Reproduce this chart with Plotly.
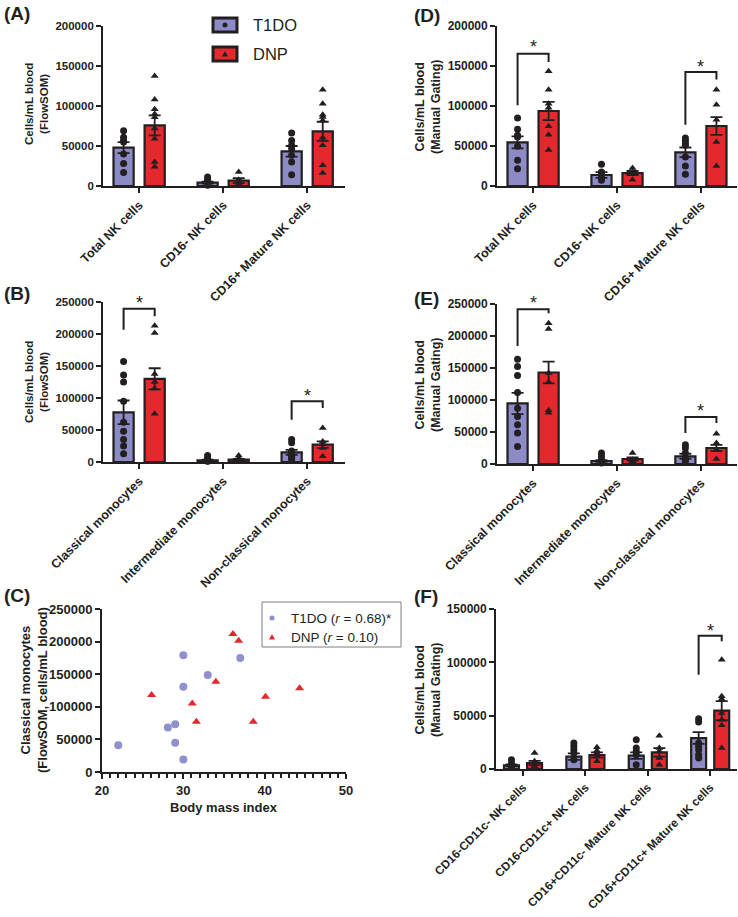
import plotly.graph_objects as go

W, H = 738, 917
PURPLE = '#8D8BC6'
RED = '#E5282E'
INK = '#231F20'
FONT = 'Arial, Liberation Sans, sans-serif'

# ---------------- DATA ----------------
# Panel A (FlowSOM NK)
A_cats = ["Total NK cells", "CD16- NK cells", "CD16+ Mature NK cells"]
A_t1do_mean = [47900, 4200, 43300]
A_t1do_sem = [6900, 1200, 6700]
A_dnp_mean = [75800, 6700, 68300]
A_dnp_sem = [12500, 3000, 12000]
A_t1do_pts = [[69000, 61000, 57000, 55000, 40000, 28000, 17000],
              [11250, 7900, 5000, 2900, 1700, 1000],
              [66250, 57000, 50800, 46700, 38300, 30000, 14200]]
A_dnp_pts = [[137500, 108000, 96000, 90000, 86000, 72000, 59000, 30000, 24000],
             [17500, 7900, 4200, 2100],
             [120400, 102900, 89200, 86250, 82000, 60400, 50800, 25800, 16250]]
A_sig = []  # (category index, left y, top y, right y, star y)

# Panel B (FlowSOM monocytes)
B_cats = ["Classical monocytes", "Intermediate monocytes", "Non-classical monocytes"]
B_t1do_mean = [77600, 2600, 15100]
B_t1do_sem = [18500, 900, 4000]
B_dnp_mean = [130000, 3600, 27100]
B_dnp_sem = [16500, 1200, 5000]
B_t1do_pts = [[157000, 136000, 125000, 95000, 62000, 48000, 35000, 25000, 13000],
              [10000, 6000, 3500, 2000, 1500, 1000],
              [35000, 30000, 17000, 12000, 9000, 6000, 4000]]
B_dnp_pts = [[213000, 201500, 137500, 125000, 115000, 75500],
             [10000, 6000, 3000, 2000, 1000],
             [53000, 32000, 28000, 22000, 9000]]
B_sig = [(0, 206800, 239600, 227600, 253000), (2, 66100, 94800, 84400, 108000)]

# Panel C (scatter, BMI vs classical monocytes)
C_t1do_bmi = [22.0, 28.1, 29.0, 29.0, 30.0, 30.0, 30.0, 33.0, 37.0]
C_t1do_mono = [41000, 68300, 73400, 44700, 19000, 130900, 179100, 148900, 175000]
C_dnp_bmi = [26.1, 31.1, 31.6, 34.0, 36.1, 36.8, 38.6, 40.1, 44.3]
C_dnp_mono = [118000, 105200, 77000, 138600, 211500, 201200, 77000, 115500, 128300]
C_legend = ["T1DO (<i>r</i> = 0.68)*", "DNP (<i>r</i> = 0.10)"]

# Panel D (Manual NK)
D_cats = ["Total NK cells", "CD16- NK cells", "CD16+ Mature NK cells"]
D_t1do_mean = [54600, 13750, 42100]
D_t1do_sem = [7500, 3500, 6000]
D_dnp_mean = [93750, 16250, 75000]
D_dnp_sem = [11500, 2500, 11000]
D_t1do_pts = [[85000, 70800, 63300, 61250, 49600, 32100, 21700],
              [27100, 17500, 14200, 10400, 7100],
              [60000, 57000, 53750, 50800, 36250, 25000, 14600]]
D_dnp_pts = [[143300, 120400, 102900, 97900, 74600, 64200, 45000],
             [22500, 17500, 7900],
             [120400, 101700, 82900, 55000, 25000]]
D_sig = [(0, 100800, 165400, 155000, 177000), (2, 76700, 142500, 133000, 153000)]

# Panel E (Manual monocytes)
E_cats = ["Classical monocytes", "Intermediate monocytes", "Non-classical monocytes"]
E_t1do_mean = [94600, 4700, 12000]
E_t1do_sem = [16600, 1500, 4000]
E_dnp_mean = [143000, 7800, 25000]
E_dnp_sem = [17000, 2500, 5000]
E_t1do_pts = [[163700, 152300, 138300, 111750, 87300, 74300, 61300, 48300, 27500],
              [17000, 12000, 6800, 3000, 1500],
              [30000, 25000, 17000, 9400, 4200]]
E_dnp_pts = [[220000, 211000, 142000, 128000, 84000, 80000],
             [17000, 6800, 4200],
             [47300, 32700, 22400, 7800]]
E_sig = [(0, 184500, 241700, 235500, 256000), (2, 48300, 73300, 64000, 87000)]

# Panel F (Manual NK CD11c)
F_cats = ["CD16-CD11c- NK cells", "CD16-CD11c+ NK cells",
          "CD16+CD11c- Mature NK cells", "CD16+CD11c+ Mature NK cells"]
F_t1do_mean = [3400, 11600, 12500, 29000]
F_t1do_sem = [1000, 3000, 3000, 5500]
F_dnp_mean = [5600, 13100, 15600, 54700]
F_dnp_sem = [2000, 2500, 4000, 9000]
F_t1do_pts = [[8750, 5600, 2500, 1500],
              [24400, 21250, 18100, 15000, 8750],
              [27500, 19700, 16600, 13400, 4000],
              [47000, 44000, 24400, 21250, 18100, 13400, 10300]]
F_dnp_pts = [[15000, 7200, 2500],
             [20300, 17200, 15000, 11900, 7200],
             [31250, 19700, 16600, 10300, 4000],
             [102500, 68100, 65600, 52500, 46250, 40900, 19700]]
F_sig = [(3, 88400, 125000, 119700, 132000)]

# ---------------- LAYOUT HELPERS ----------------
def xd(l, r):
    return [l / W, r / W]

def yd(top, bottom):
    return [1 - bottom / H, 1 - top / H]

def px(x):
    return x / W

def py(y):
    return 1 - y / H

fig = go.Figure()
annotations = []
shapes = []
OFF = 0.185
BW = 0.24

def axis_common(size):
    return dict(showline=True, linecolor=INK, linewidth=1.8, ticks='outside',
                ticklen=5, tickwidth=1.8, tickcolor=INK, showgrid=False,
                zeroline=False, automargin=False,
                tickfont=dict(family=FONT, size=size, color=INK, weight='bold'))

def bar_panel(n, cats, tm, ts, dm, ds, tp, dp, sigs, xdom, ydom, xr, yr, ytv,
              fsize, xfsize):
    xa = 'x' if n == 1 else 'x%d' % n
    ya = 'y' if n == 1 else 'y%d' % n
    idx = list(range(len(cats)))
    for means, sems, pts, sign, col, sym, ms in [
            (tm, ts, tp, -1, PURPLE, 'circle', 7),
            (dm, ds, dp, 1, RED, 'triangle-up', 7)]:
        fig.add_trace(go.Bar(
            x=[i + sign * OFF for i in idx], y=means, width=BW,
            marker=dict(color=col, line=dict(color=INK, width=2.2)),
            error_y=dict(type='data', array=sems, color=INK, thickness=1.8, width=6),
            xaxis=xa, yaxis=ya, showlegend=False, hoverinfo='skip'))
        xs, ys = [], []
        for i, p in zip(idx, pts):
            xs += [i + sign * OFF] * len(p)
            ys += p
        fig.add_trace(go.Scatter(
            x=xs, y=ys, mode='markers', cliponaxis=False,
            marker=dict(symbol=sym, size=ms, color=INK, line=dict(width=0)),
            xaxis=xa, yaxis=ya, showlegend=False, hoverinfo='skip'))
    for (ci, yl, yt, yrr, ys) in sigs:
        fig.add_trace(go.Scatter(
            x=[ci - OFF, ci - OFF, ci + OFF, ci + OFF], y=[yl, yt, yt, yrr],
            mode='lines', line=dict(color=INK, width=2), cliponaxis=False,
            xaxis=xa, yaxis=ya, showlegend=False, hoverinfo='skip'))
        annotations.append(dict(x=ci, y=ys / yr[1], xref=xa, yref=ya + ' domain',
                                text='*', showarrow=False, yanchor='middle',
                                yshift=-3,
                                font=dict(family=FONT, size=18, color=INK)))
    xkey = 'xaxis' if n == 1 else 'xaxis%d' % n
    ykey = 'yaxis' if n == 1 else 'yaxis%d' % n
    xax = axis_common(xfsize)
    xax.update(domain=xd(*xdom), range=xr, anchor=ya, tickmode='array',
               tickvals=idx, ticktext=cats, tickangle=-45)
    yax = axis_common(fsize)
    yax.update(domain=yd(*ydom), range=yr, anchor=xa, tickmode='array',
               tickvals=ytv, ticktext=[str(v) for v in ytv])
    fig.update_layout({xkey: xax, ykey: yax})

bar_panel(1, A_cats, A_t1do_mean, A_t1do_sem, A_dnp_mean, A_dnp_sem, A_t1do_pts,
          A_dnp_pts, A_sig, (103, 345), (26, 186), [-0.43, 2.45], [0, 200000],
          [0, 50000, 100000, 150000, 200000], 11.5, 12.5)
bar_panel(2, B_cats, B_t1do_mean, B_t1do_sem, B_dnp_mean, B_dnp_sem, B_t1do_pts,
          B_dnp_pts, B_sig, (103, 345), (302, 462), [-0.43, 2.45], [0, 250000],
          [0, 50000, 100000, 150000, 200000, 250000], 11.5, 12.5)
bar_panel(4, D_cats, D_t1do_mean, D_t1do_sem, D_dnp_mean, D_dnp_sem, D_t1do_pts,
          D_dnp_pts, D_sig, (497, 737), (26, 186), [-0.43, 2.43], [0, 200000],
          [0, 50000, 100000, 150000, 200000], 12, 12.5)
bar_panel(5, E_cats, E_t1do_mean, E_t1do_sem, E_dnp_mean, E_dnp_sem, E_t1do_pts,
          E_dnp_pts, E_sig, (497, 737), (304, 464), [-0.43, 2.43], [0, 250000],
          [0, 50000, 100000, 150000, 200000, 250000], 12, 12.5)
bar_panel(6, F_cats, F_t1do_mean, F_t1do_sem, F_dnp_mean, F_dnp_sem, F_t1do_pts,
          F_dnp_pts, F_sig, (496, 737), (609, 769), [-0.433, 3.43], [0, 150000],
          [0, 50000, 100000, 150000], 12, 11.8)

# Panel C scatter
fig.add_trace(go.Scatter(x=C_t1do_bmi, y=C_t1do_mono, mode='markers', cliponaxis=False,
                         marker=dict(symbol='circle', size=8, color='#9190CE'),
                         xaxis='x3', yaxis='y3', showlegend=False, hoverinfo='skip'))
fig.add_trace(go.Scatter(x=C_dnp_bmi, y=C_dnp_mono, mode='markers', cliponaxis=False,
                         marker=dict(symbol='triangle-up', size=8, color=RED),
                         xaxis='x3', yaxis='y3', showlegend=False, hoverinfo='skip'))
xc = axis_common(13)
xc.update(domain=xd(102, 346), range=[20, 50], anchor='y3', tickvals=[20, 30, 40, 50],
          minor=dict(dtick=1, ticks='outside', ticklen=4, tickwidth=1.5, tickcolor=INK))
yc = axis_common(13)
yc.update(domain=yd(609, 772), range=[0, 250000], anchor='x3', tickmode='array',
          tickvals=[0, 50000, 100000, 150000, 200000, 250000],
          ticktext=['0', '50000', '100000', '150000', '200000', '250000'])
fig.update_layout(xaxis3=xc, yaxis3=yc)

# ---------------- TEXT / DECORATION ----------------
def ann(x, y, text, size, bold=True, xanchor='center', yanchor='middle', angle=0):
    annotations.append(dict(x=px(x), y=py(y), xref='paper', yref='paper', text=text,
                            showarrow=False, xanchor=xanchor, yanchor=yanchor,
                            textangle=angle,
                            font=dict(family=FONT, size=size, color=INK,
                                      weight='bold' if bold else 'normal')))

# panel letters
for lx, ly, t in [(2, 13, '(A)'), (2, 293, '(B)'), (2, 595, '(C)'),
                  (412, 15, '(D)'), (412, 298, '(E)'), (412, 596, '(F)')]:
    ann(lx, ly, t, 19, xanchor='left')

# y titles
ann(37, 104, 'Cells/mL blood<br>(FlowSOM)', 11.5, angle=-90)
ann(37, 382, 'Cells/mL blood<br>(FlowSOM)', 11.5, angle=-90)
ann(34, 690, 'Classical monocytes<br>(FlowSOM, cells/mL blood)', 13, angle=-90)
ann(428, 107, 'Cells/mL blood<br>(Manual Gating)', 12.5, angle=-90)
ann(428, 385, 'Cells/mL blood<br>(Manual Gating)', 12.5, angle=-90)
ann(428, 690, 'Cells/mL blood<br>(Manual Gating)', 12.5, angle=-90)
ann(224, 807, 'Body mass index', 13)

# top legend
for (yy, col, label, sym) in [(25, PURPLE, 'T1DO', 'c'), (54, RED, 'DNP', 't')]:
    shapes.append(dict(type='rect', xref='paper', yref='paper', x0=px(213), x1=px(237),
                       y0=py(yy + 7), y1=py(yy - 7), fillcolor=col,
                       line=dict(color=INK, width=3)))
    if sym == 'c':
        shapes.append(dict(type='circle', xref='paper', yref='paper', x0=px(222.5),
                           x1=px(227.5), y0=py(yy + 2.5), y1=py(yy - 2.5),
                           fillcolor=INK, line=dict(width=0)))
    else:
        shapes.append(dict(type='path', xref='paper', yref='paper',
                           path='M %f %f L %f %f L %f %f Z' % (px(222), py(yy + 2.5), px(228),
                                                               py(yy + 2.5), px(225), py(yy - 3)),
                           fillcolor=INK, line=dict(width=0)))
    ann(251, yy, label, 16.5, bold=False, xanchor='left')

# panel C legend
shapes.append(dict(type='rect', xref='paper', yref='paper', x0=px(262), x1=px(401),
                   y0=py(647), y1=py(602), fillcolor='white',
                   line=dict(color='#7F7F7F', width=1), layer='below'))
shapes.append(dict(type='circle', xref='paper', yref='paper', x0=px(269.5), x1=px(274.5),
                   y0=py(620.5), y1=py(615.5), fillcolor='#9190CE', line=dict(width=0)))
shapes.append(dict(type='path', xref='paper', yref='paper',
                   path='M %f %f L %f %f L %f %f Z' % (px(269), py(639.5), px(275), py(639.5),
                                                       px(272), py(634)),
                   fillcolor=RED, line=dict(width=0)))
ann(289, 618, C_legend[0], 13.5, bold=False, xanchor='left')
ann(289, 637, C_legend[1], 13.5, bold=False, xanchor='left')

fig.update_layout(width=W, height=H, autosize=False,
                  margin=dict(l=0, r=0, t=0, b=0, autoexpand=False),
                  paper_bgcolor='white', plot_bgcolor='rgba(0,0,0,0)',
                  barmode='overlay', annotations=annotations, shapes=shapes,
                  showlegend=False,
                  font=dict(family=FONT, color=INK))

fig.write_html('out.html', config={'displayModeBar': False},
               post_script="document.body.style.margin='0';document.body.style.overflow='hidden';")
